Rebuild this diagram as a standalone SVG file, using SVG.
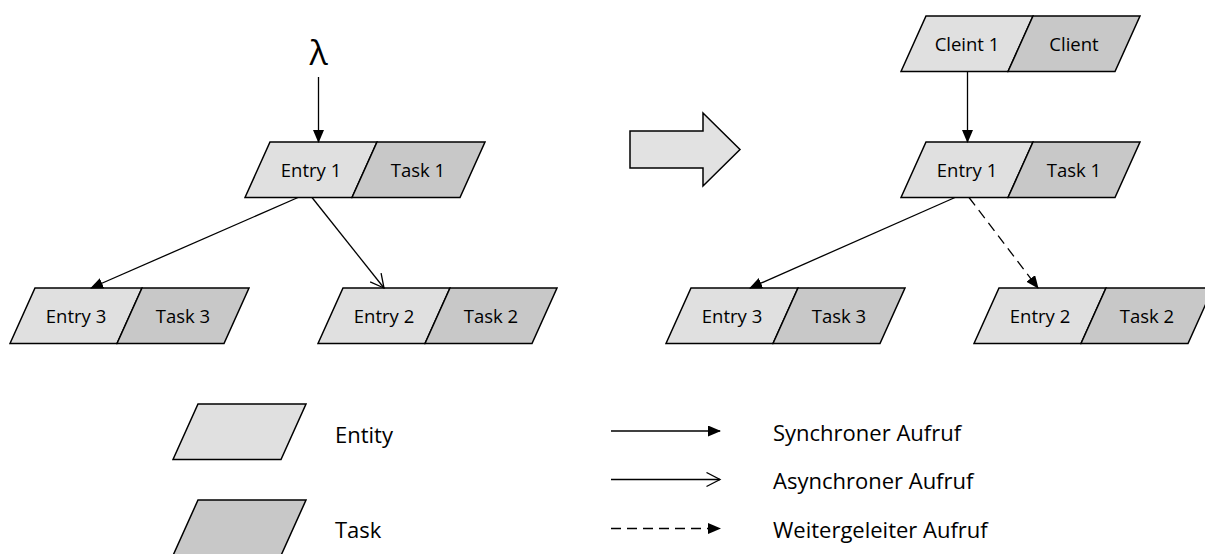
<svg xmlns="http://www.w3.org/2000/svg" width="1205" height="554" viewBox="0 0 1205 554">
  <style>
    .entity { fill: #e0e0e0; stroke: #000; stroke-width: 1.5; stroke-linejoin: miter; }
    .task { fill: #c8c8c8; stroke: #000; stroke-width: 1.5; stroke-linejoin: miter; }
    .lbl { font-family: "Open Sans", "Liberation Sans", sans-serif; font-size: 18.5px; fill: #000; text-anchor: middle; }
    .leg { font-family: "Open Sans", "Liberation Sans", sans-serif; font-size: 22px; fill: #000; }
    .call { fill: none; stroke: #000; stroke-width: 1.3; }
    .sync { marker-end: url(#head-filled); }
    .async { marker-end: url(#head-open); }
    .fwd { stroke-dasharray: 10 6; marker-end: url(#head-filled); }
  </style>
  <defs>
    <marker id="head-filled" markerUnits="userSpaceOnUse" markerWidth="14" markerHeight="12" refX="12" refY="5.5" orient="auto">
      <path d="M0,0 L13,5.5 L0,11 Z" fill="#000"/>
    </marker>
    <marker id="head-open" markerUnits="userSpaceOnUse" markerWidth="16" markerHeight="16" refX="14" refY="7.5" orient="auto">
      <path d="M0.5,0.5 L14,7.5 L0.5,14.5" fill="none" stroke="#000" stroke-width="1.3"/>
    </marker>
  </defs>

  <!-- left: original model, arrival rate lambda on Entry 1 -->
  <text class="lbl" x="318.5" y="65" style="font-size:34px">λ</text>

  <g id="L-entry1">
    <polygon class="entity" points="245,197.5 270,142 377,142 352,197.5"/>
    <polygon class="task" points="352,197.5 377,142 485,142 460,197.5"/>
    <text class="lbl" x="311" y="176.5">Entry 1</text>
    <text class="lbl" x="418" y="176.5">Task 1</text>
  </g>
  <g id="L-entry3">
    <polygon class="entity" points="10,343.5 35,288 142,288 117,343.5"/>
    <polygon class="task" points="117,343.5 142,288 249,288 224,343.5"/>
    <text class="lbl" x="76" y="322.5">Entry 3</text>
    <text class="lbl" x="183" y="322.5">Task 3</text>
  </g>
  <g id="L-entry2">
    <polygon class="entity" points="318,343.5 343,288 450,288 425,343.5"/>
    <polygon class="task" points="425,343.5 450,288 557,288 532,343.5"/>
    <text class="lbl" x="384" y="322.5">Entry 2</text>
    <text class="lbl" x="491" y="322.5">Task 2</text>
  </g>

  <!-- transformation arrow -->
  <g id="transform-arrow">
    <polygon points="630,131 703,131 703,113 740,149.5 703,186 703,168 630,168" fill="#e2e2e2" stroke="#000" stroke-width="1.5"/>
  </g>

  <!-- right: model with explicit client -->
  <g id="R-client1">
    <polygon class="entity" points="901,71.5 926,16 1033,16 1008,71.5"/>
    <polygon class="task" points="1008,71.5 1033,16 1140,16 1115,71.5"/>
    <text class="lbl" x="967" y="50.5">Cleint 1</text>
    <text class="lbl" x="1074" y="50.5">Client</text>
  </g>
  <g id="R-entry1">
    <polygon class="entity" points="901,197.5 926,142 1033,142 1008,197.5"/>
    <polygon class="task" points="1008,197.5 1033,142 1140,142 1115,197.5"/>
    <text class="lbl" x="967" y="176.5">Entry 1</text>
    <text class="lbl" x="1074" y="176.5">Task 1</text>
  </g>
  <g id="R-entry3">
    <polygon class="entity" points="666,343.5 691,288 798,288 773,343.5"/>
    <polygon class="task" points="773,343.5 798,288 905,288 880,343.5"/>
    <text class="lbl" x="732" y="322.5">Entry 3</text>
    <text class="lbl" x="839" y="322.5">Task 3</text>
  </g>
  <g id="R-entry2">
    <polygon class="entity" points="974,343.5 999,288 1106,288 1081,343.5"/>
    <polygon class="task" points="1081,343.5 1106,288 1213,288 1188,343.5"/>
    <text class="lbl" x="1040" y="322.5">Entry 2</text>
    <text class="lbl" x="1147" y="322.5">Task 2</text>
  </g>

  <!-- calls between entries -->
  <g id="connectors">
    <line class="call sync" x1="318.5" y1="77" x2="318.5" y2="142"/>
    <line class="call sync" x1="298" y1="197.5" x2="91" y2="288"/>
    <line class="call async" x1="312" y1="197.5" x2="384" y2="288"/>
    <line class="call sync" x1="967.5" y1="71.5" x2="967.5" y2="142"/>
    <line class="call sync" x1="955" y1="197.5" x2="750" y2="288"/>
    <line class="call fwd" x1="969" y1="197.5" x2="1038" y2="288"/>
  </g>

  <!-- legend -->
  <g id="legend-entity">
    <polygon class="entity" points="173,459.5 198,404 306,404 281,459.5"/>
    <text class="leg" x="335" y="443">Entity</text>
  </g>
  <g id="legend-task">
    <polygon class="task" points="173,555.5 198,500 306,500 281,555.5"/>
    <text class="leg" x="335" y="538">Task</text>
  </g>
  <g id="legend-calls">
    <line class="call sync" x1="611" y1="431" x2="720" y2="431"/>
    <line class="call async" x1="611" y1="479.5" x2="720" y2="479.5"/>
    <line class="call fwd" x1="611" y1="528.5" x2="720" y2="528.5"/>
    <text class="leg" x="773" y="441">Synchroner Aufruf</text>
    <text class="leg" x="773" y="489">Asynchroner Aufruf</text>
    <text class="leg" x="773" y="537.5">Weitergeleiter Aufruf</text>
  </g>
</svg>
